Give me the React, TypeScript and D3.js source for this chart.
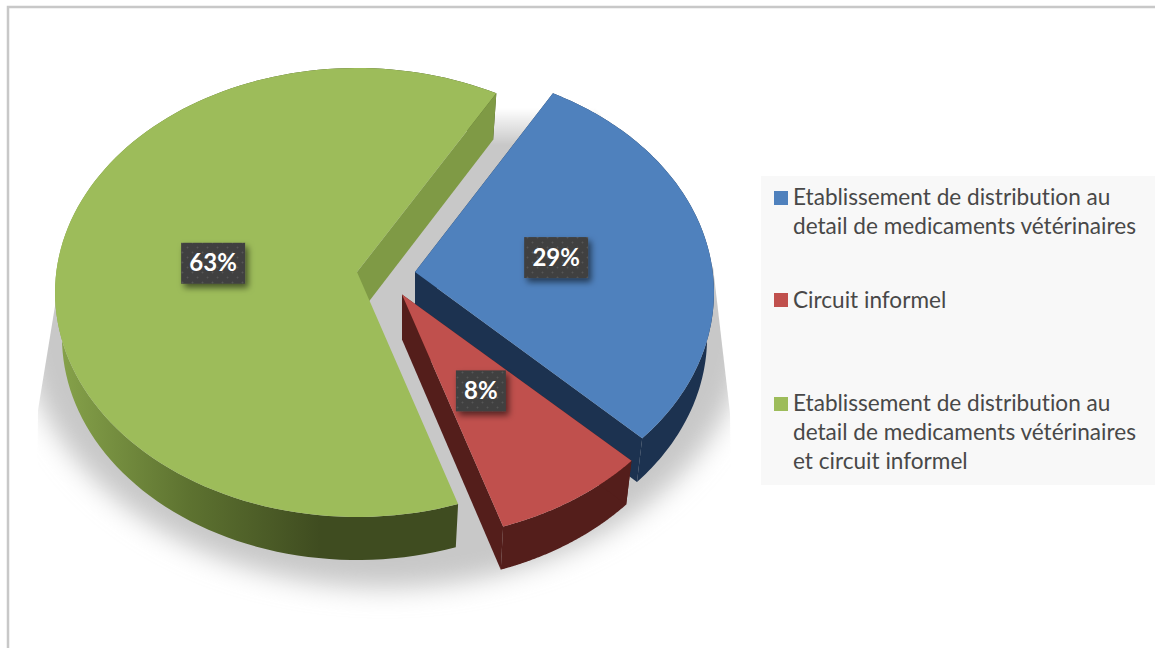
import React from "react";
import * as d3 from "d3";

const categories = [
  "Etablissement de distribution au detail de medicaments vétérinaires",
  "Circuit informel",
  "Etablissement de distribution au detail de medicaments vétérinaires et circuit informel",
];
const shareValues = [29, 7.7, 63.3];
const percentLabels = ["29%", "8%", "63%"];
const legendLines = [
  ["Etablissement de distribution au", "detail de medicaments vétérinaires"],
  ["Circuit informel"],
  ["Etablissement de distribution au", "detail de medicaments vétérinaires", "et circuit informel"],
];

const W = 1155, H = 648;
const topColors = ["#4f81bd", "#c0504d", "#9dbc5a"];
const wallColors = ["#1c3250", "#541e1b", "#7f9a45"];
// hub of each exploded slice on screen
const hubs: [number, number][] = [[415, 272], [402, 294.5], [357, 272]];
const radiusScale = [0.99, 1, 1];
const labelNudge = [[-1, -2.5], [0, -0.5], [-1, 0]];
const legendBaselines = [[205, 234], [308], [411, 440, 469]];
const swatchTops = [191, 293, 397];

// perspective projection of a unit disc
const A = 300.7, B = 222.6, K = 0.0913, DEPTH = 45, SX = 0.977, SY = 0.992;
const project = (ang: number, r = 1, sx = 1): [number, number] => {
  const u = Math.sin(ang) * r, v = -Math.cos(ang) * r;
  const w = 1 - K * v;
  return [(A * sx * u) / w, (B * v) / w];
};
const top = (hub: [number, number], p: [number, number]): [number, number] => [hub[0] + p[0], hub[1] + p[1]];
const bot = (hub: [number, number], p: [number, number]): [number, number] => [hub[0] + p[0] * SX, hub[1] + p[1] * SY + DEPTH];

const pie = d3.pie<number>().sort(null).startAngle((30 * Math.PI) / 180).endAngle((390 * Math.PI) / 180);
const arcs = pie(shareValues);
const line = d3.line<[number, number]>();

const slices = arcs.map((a, i) => {
  const hub = hubs[i];
  const pts = d3.range(0, 121).map((k) => project(a.startAngle + ((a.endAngle - a.startAngle) * k) / 120, 1, radiusScale[i]));
  const topFace = line([hub, ...pts.map((p) => top(hub, p))]) + "Z";
  const rim = line([...pts.map((p) => top(hub, p)), ...pts.slice().reverse().map((p) => bot(hub, p))]) + "Z";
  const wallOf = (p: [number, number]) =>
    line([hub, top(hub, p), bot(hub, p), bot(hub, [0, 0])]) + "Z";
  // the green slice only shows the cut wall at its closing edge
  const walls = i === 2 ? [wallOf(pts[pts.length - 1])] : [wallOf(pts[0]), wallOf(pts[pts.length - 1])];
  const mid = (a.startAngle + a.endAngle) / 2;
  const c = top(hub, project(mid, 0.48));
  return { i, topFace, rim, walls, c: [c[0] + labelNudge[i][0], c[1] + 2.5 + labelNudge[i][1]] };
});
const drawOrder = [2, 0, 1];

export default function App() {
  return (
    <svg width={W} height={H} viewBox={`0 0 ${W} ${H}`}
      style={{ position: "absolute", left: 0, top: 0, display: "block" }}>
      <defs>
        <filter id="sh" filterUnits="userSpaceOnUse" x="-50" y="-50" width="900" height="800">
          <feGaussianBlur stdDeviation="13" />
        </filter>
        <filter id="boxsh" x="-30%" y="-30%" width="170%" height="170%">
          <feDropShadow dx="3" dy="4" stdDeviation="3" floodColor="#000" floodOpacity="0.55" />
        </filter>
        <pattern id="dots" width="10" height="10" patternUnits="userSpaceOnUse">
          <rect width="10" height="10" fill="#3f3f3f" />
          <circle cx="2.5" cy="2.5" r="1" fill="#575757" />
          <circle cx="7.5" cy="7.5" r="1" fill="#575757" />
        </pattern>
        <linearGradient id="greenRim" gradientUnits="userSpaceOnUse" x1="60" x2="320" y1="0" y2="0">
          <stop offset="0" stopColor="#86a24a" />
          <stop offset="0.5" stopColor="#5d7230" />
          <stop offset="1" stopColor="#3f4c20" />
        </linearGradient>
        <linearGradient id="fadeTop" gradientUnits="userSpaceOnUse" x1="0" x2="0" y1="108" y2="145">
          <stop offset="0" stopColor="#000" />
          <stop offset="1" stopColor="#fff" />
        </linearGradient>
        <mask id="shMask" maskUnits="userSpaceOnUse" x="0" y="0" width={W} height={H}>
          <path d="M300 60L560 60L713 267L730 413L733 648L36 648L38 410L56 300Z" fill="url(#fadeTop)" />
        </mask>
      </defs>
      <rect width={W} height={H} fill="#fff" />
      <path d={`M8 ${H}V7H${W}`} fill="none" stroke="#c8c8c8" strokeWidth="2.5" />

      <g mask="url(#shMask)">
        <ellipse cx={385} cy={316} rx={364} ry={272} fill="#c8c8c8" filter="url(#sh)" />
      </g>

      {drawOrder.map((idx) => {
        const s = slices[idx];
        const rimFill = idx === 2 ? "url(#greenRim)" : wallColors[idx];
        return (
          <g key={idx}>
            <path d={s.rim} fill={rimFill} />
            {s.walls.map((w, j) => <path key={j} d={w} fill={wallColors[idx]} />)}
            <path d={s.topFace} fill={topColors[idx]} />
          </g>
        );
      })}

      {slices.map((s) => {
        const label = percentLabels[s.i];
        const bw = 22 + 14 * label.length, bh = 41;
        return (
          <g key={s.i}>
            <rect x={s.c[0] - bw / 2} y={s.c[1] - bh / 2} width={bw} height={bh} fill="url(#dots)" filter="url(#boxsh)" />
            <text x={s.c[0]} y={s.c[1] + 8} textAnchor="middle" fill="#fff" fontFamily="Lato" fontWeight="700" fontSize="24">{label}</text>
          </g>
        );
      })}

      <rect x={761} y={176} width={394} height={309} fill="#f8f8f8" />
      {categories.map((c, i) => (
        <g key={c}>
          <rect x={774} y={swatchTops[i]} width={14} height={14} fill={topColors[i]} />
          {legendLines[i].map((t, j) => (
            <text key={j} x={793} y={legendBaselines[i][j]} fontFamily="Lato" fontSize="22.6" fill="#484848"
              style={{ fontVariantLigatures: "none" }}>{t}</text>
          ))}
        </g>
      ))}
    </svg>
  );
}
